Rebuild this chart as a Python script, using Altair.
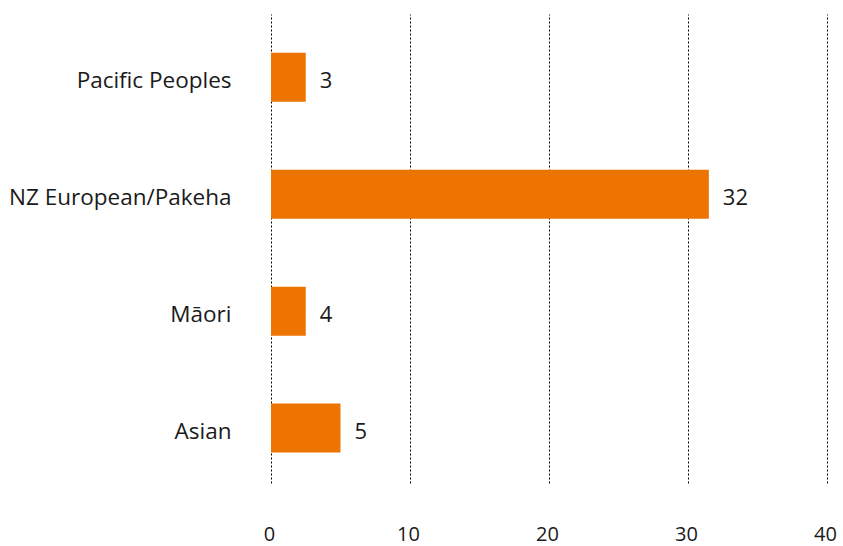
import altair as alt
import pandas as pd

categories = ["Pacific Peoples", "NZ European/Pakeha", "Māori", "Asian"]
values = [2.5, 31.5, 2.5, 5.0]
labels = ["3", "32", "4", "5"]

df = pd.DataFrame({"cat": categories, "val": values, "lab": labels})

FONT = "Open Sans"
y_enc = alt.Y(
    "cat:N",
    sort=categories,
    title=None,
    scale=alt.Scale(paddingInner=0.581, paddingOuter=0.295, align=0.56),
    axis=alt.Axis(
        domain=False, ticks=False, grid=False, labelPadding=40,
        labelFontSize=22.5, labelColor="#1a1a1a", labelFont=FONT,
        labelLimit=300, labelOffset=4,
    ),
)
x_enc = alt.X(
    "val:Q",
    title=None,
    scale=alt.Scale(domain=[0, 40], nice=False),
    axis=alt.Axis(
        values=[0, 10, 20, 30, 40], domain=False, ticks=False,
        grid=True, gridColor="#000000", gridDash=[2, 2], gridWidth=1,
        labelPadding=41, labelFontSize=20, labelColor="#1a1a1a",
        labelFont=FONT, labelFlush=False, labelOffset=-2,
    ),
)

bars = alt.Chart(df).mark_bar(color="#EE7402", size=49).encode(x=x_enc, y=y_enc)
text = alt.Chart(df).mark_text(
    align="left", baseline="middle", dx=14, dy=4, fontSize=22, font=FONT, color="#1a1a1a"
).encode(x=alt.X("val:Q"), y=alt.Y("cat:N", sort=categories), text="lab:N")

chart = (bars + text).properties(
    width=556, height=469,
    background="white",
    autosize=alt.AutoSizeParams(type="none"),
    padding={"left": 271, "top": 14, "right": 16, "bottom": 63},
).configure_view(stroke=None)

chart.save("out.html", embed_options={"renderer": "svg", "actions": False})
